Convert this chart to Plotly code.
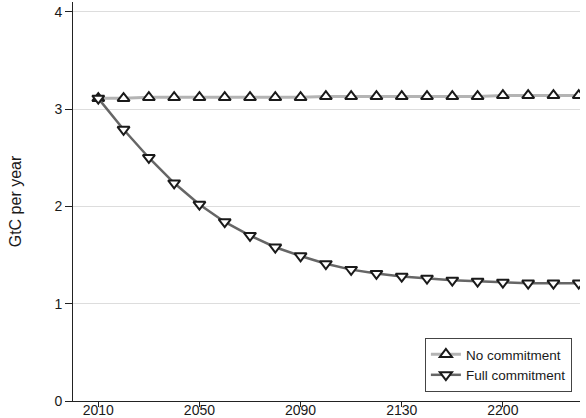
import plotly.graph_objects as go

period_index = list(range(20))
no_commitment = [3.11, 3.11, 3.12, 3.12, 3.12, 3.12, 3.12, 3.12, 3.12, 3.13,
                 3.13, 3.13, 3.13, 3.13, 3.13, 3.13, 3.14, 3.14, 3.14, 3.14]
full_commitment = [3.11, 2.79, 2.50, 2.24, 2.02, 1.84, 1.70, 1.58, 1.49, 1.41,
                   1.35, 1.31, 1.28, 1.26, 1.24, 1.23, 1.22, 1.21, 1.21, 1.21]
tick_positions = [0, 4, 8, 12, 16]
tick_labels = ["2010", "2050", "2090", "2130", "2200"]
y_ticks = [0, 1, 2, 3, 4]

FONT = "Liberation Sans, Arial, Helvetica, sans-serif"
marker_common = dict(size=10.5, color="white", line=dict(color="#1a1a1a", width=2))

fig = go.Figure()
fig.add_trace(go.Scatter(
    x=period_index, y=no_commitment, name="No commitment",
    mode="lines+markers",
    line=dict(color="#b4b4b4", width=3),
    marker=dict(symbol="triangle-up", **marker_common),
))
fig.add_trace(go.Scatter(
    x=period_index, y=full_commitment, name="Full commitment",
    mode="lines+markers",
    line=dict(color="#666666", width=2.5),
    marker=dict(symbol="triangle-down", **marker_common),
))

fig.update_layout(
    width=586, height=418,
    margin=dict(l=73, r=6, t=2, b=17),
    paper_bgcolor="white", plot_bgcolor="white",
    font=dict(family=FONT, size=14, color="#1a1a1a"),
    showlegend=True,
    legend=dict(
        x=0.984, y=0.0226, xanchor="right", yanchor="bottom",
        bordercolor="#444444", borderwidth=1, bgcolor="white",
        font=dict(size=13.5, family=FONT, color="#1a1a1a"),
        tracegroupgap=0, itemwidth=30,
    ),
)
fig.update_xaxes(
    range=[-1.0, 19.05],
    tickmode="array", tickvals=tick_positions, ticktext=tick_labels,
    showgrid=False, zeroline=False,
    showline=True, linecolor="#222222", linewidth=1,
    ticks="outside", ticklen=5, tickcolor="#222222",
    tickfont=dict(size=14), ticklabelstandoff=-9,
    automargin=False,
)
fig.update_yaxes(
    range=[0, 4.1],
    tickmode="array", tickvals=y_ticks,
    showgrid=True, gridcolor="#dddddd", gridwidth=1,
    zeroline=False,
    showline=True, linecolor="#222222", linewidth=1,
    ticks="outside", ticklen=7, tickcolor="#222222",
    tickfont=dict(size=14),
    title=dict(text="GtC per year", font=dict(size=16), standoff=28),
    automargin=False,
)

fig.write_html("out.html")
